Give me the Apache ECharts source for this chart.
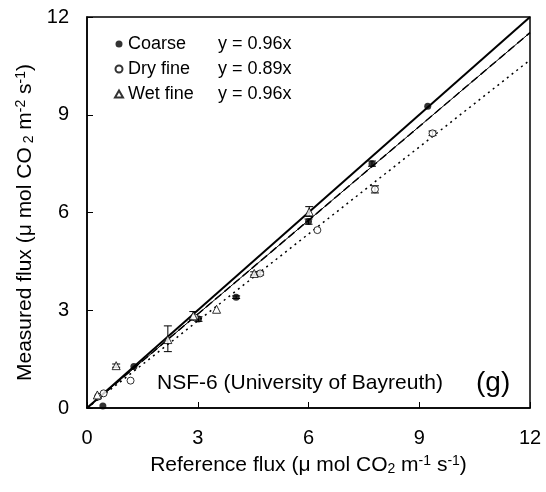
<!DOCTYPE html>
<html><head><meta charset="utf-8">
<script src="https://cdn.jsdelivr.net/npm/echarts@6/dist/echarts.min.js"></script>
<style>html,body{margin:0;padding:0;background:#fff}#c{width:546px;height:492px}</style>
</head><body><div id="c"></div>
<script>
var ticks = [0, 3, 6, 9, 12];
var coarse = [[0.43,0.06],[1.27,1.27],[3.02,2.73],[4.04,3.40],[6.0,5.72],[7.72,7.50],[9.23,9.26]];
var dryFine = [[0.3,0.35],[0.45,0.45],[1.18,0.84],[2.92,2.78],[4.69,4.13],[6.24,5.46],[7.8,6.71],[9.36,8.43]];
var wetFine = [[0.28,0.4],[0.79,1.3],[2.19,2.1],[2.88,2.83],[3.51,3.03],[4.53,4.13],[6.02,6.02]];
// error bars: [x, low, high]
var errCoarse = [[3.02,2.66,2.80],[6.0,5.64,5.80],[7.72,7.42,7.58],[4.04,3.36,3.44]];
var errDry = [[7.8,6.6,6.82],[9.36,8.36,8.5],[4.69,4.08,4.18]];
var errWet = [[2.19,1.73,2.52],[2.88,2.70,2.96],[6.02,5.88,6.18],[0.79,1.25,1.35],[4.53,4.08,4.18]];
var lineOneToOne = [[0,0],[12,12]];
var lineCoarse = [[0,0],[12,11.52]];
var lineWet = [[0,0],[12,11.52]];
var lineDry = [[0,0],[12,10.68]];

var errAll = errCoarse.concat(errDry, errWet);
var chart = echarts.init(document.getElementById('c'));
var font = 'Liberation Sans, Arial, sans-serif';
function errRender(params, api){
  var x = api.value(0), lo = api.value(1), hi = api.value(2);
  var p1 = api.coord([x, lo]), p2 = api.coord([x, hi]);
  var w = 4;
  return {type:'group', children:[
    {type:'line', shape:{x1:p1[0],y1:p1[1],x2:p2[0],y2:p2[1]}, style:{stroke:'#000',lineWidth:1}},
    {type:'line', shape:{x1:p1[0]-w,y1:p1[1],x2:p1[0]+w,y2:p1[1]}, style:{stroke:'#000',lineWidth:1}},
    {type:'line', shape:{x1:p2[0]-w,y1:p2[1],x2:p2[0]+w,y2:p2[1]}, style:{stroke:'#000',lineWidth:1}}
  ]};
}
var rich = {
  n:{fontSize:21,fontFamily:font,color:'#000'},
  sub:{fontSize:14,fontFamily:font,color:'#000',verticalAlign:'bottom',padding:[8,0,0,0]},
  sup:{fontSize:14,fontFamily:font,color:'#000',verticalAlign:'top',padding:[0,0,8,0]}
};
var option = {
  animation:false,
  backgroundColor:'#fff',
  grid:{left:87,right:16,top:17,bottom:84},
  legend:{
    left:109, top:30, orient:'vertical', itemGap:7, itemWidth:8, itemHeight:7,
    data:['Coarse','Dry fine','Wet fine'],
    formatter:function(n){
      var eq = {'Coarse':'y = 0.96x','Dry fine':'y = 0.89x','Wet fine':'y = 0.96x'}[n];
      return '{a|'+n+'}{b|'+eq+'}';
    },
    textStyle:{fontFamily:font,fontSize:18,color:'#000',
      rich:{a:{width:90,fontSize:18,fontFamily:font,color:'#000'},b:{fontSize:18,fontFamily:font,color:'#000'}}}
  },
  xAxis:{
    type:'value', min:0, max:12, interval:3,
    name:'{n|Reference flux (μ mol CO}{sub|2}{n| m}{sup|-1}{n| s}{sup|-1}{n|)}',
    nameLocation:'middle', nameGap:46,
    nameTextStyle:{rich:rich},
    axisLine:{lineStyle:{color:'#000',width:1.5}},
    axisTick:{inside:true,length:6,lineStyle:{color:'#000'}},
    axisLabel:{fontSize:20,fontFamily:font,color:'#000',margin:20},
    splitLine:{show:false}
  },
  yAxis:{
    type:'value', min:0, max:12, interval:3,
    name:'{n|Measured flux (μ mol CO}{sub| 2}{n| m}{sup|-2}{n| s}{sup|-1}{n|)}',
    nameLocation:'middle', nameGap:50,
    nameTextStyle:{rich:rich, padding:[0,20,0,0]},
    axisLine:{lineStyle:{color:'#000',width:1.5}},
    axisTick:{inside:true,length:6,lineStyle:{color:'#000'}},
    axisLabel:{fontSize:20,fontFamily:font,color:'#000',margin:18},
    splitLine:{show:false}
  },
  graphic:[
    {type:'rect', shape:{x:87,y:17,width:443,height:391}, style:{fill:'none',stroke:'#000',lineWidth:1.5}, silent:true, z:1},
    {type:'text', left:157, top:373, style:{text:'NSF-6 (University of Bayreuth)', font:'21px '+font, fill:'#000'}},
    {type:'text', left:476, top:369, style:{text:'(g)', font:'28px '+font, fill:'#000'}}
  ],
  series:[
    {type:'line', data:lineOneToOne, symbol:'none', lineStyle:{color:'#000',width:2}, z:2, silent:true},
    {type:'line', data:lineCoarse, symbol:'none', lineStyle:{color:'#000',width:1}, z:2, silent:true},
    {type:'line', data:lineWet, symbol:'none', lineStyle:{color:'#000',width:1.5,type:[8,4]}, z:2, silent:true},
    {type:'line', data:lineDry, symbol:'none', lineStyle:{color:'#000',width:1.5,type:[2,4]}, z:2, silent:true},
    {type:'custom', renderItem:errRender, data:errAll, z:3, silent:true},
    {name:'Coarse', type:'scatter', data:coarse, symbol:'circle', symbolSize:7, itemStyle:{color:'#000'}, z:5},
    {name:'Dry fine', type:'scatter', data:dryFine, symbol:'circle', symbolSize:7, itemStyle:{color:'#fff',borderColor:'#000',borderWidth:1}, z:5},
    {name:'Wet fine', type:'scatter', data:wetFine, symbol:'triangle', symbolSize:8, itemStyle:{color:'#fff',borderColor:'#000',borderWidth:1}, z:5}
  ]
};
chart.setOption(option);
</script></body></html>
